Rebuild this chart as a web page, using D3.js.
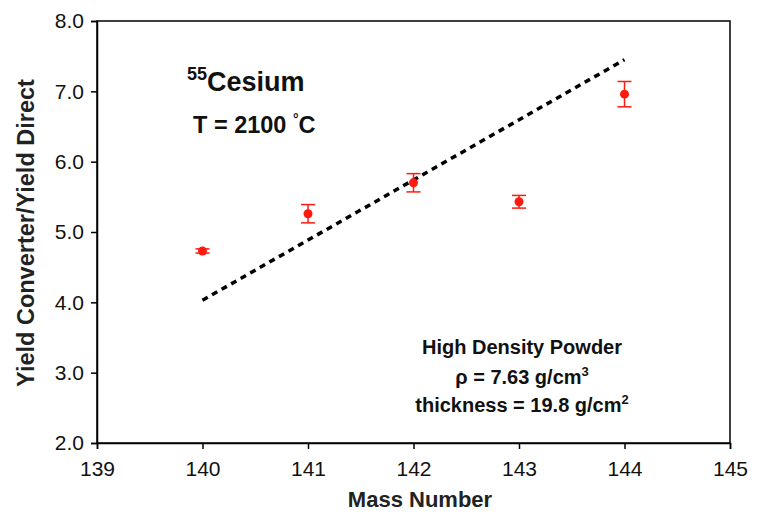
<!DOCTYPE html>
<html>
<head>
<meta charset="utf-8">
<script src="https://cdn.jsdelivr.net/npm/d3@7"></script>
<style>
  body { margin: 0; background: #fff; }
  svg { font-family: 'Liberation Sans', Arial, sans-serif; }
</style>
</head>
<body>
<svg id="svg" width="761" height="514"></svg>
<script>
const width = 761;
const height = 514;

const paddings = { left: 97, top: 21, right: 31, bottom: 71 };

// data
const massNumbers = [140, 141, 142, 143, 144];
const yieldRatio = [4.73, 5.26, 5.70, 5.43, 6.96];
const errLow = [0.03, 0.13, 0.13, 0.09, 0.18];
const errHigh = [0.03, 0.13, 0.13, 0.09, 0.18];
const trendX = [140, 144];
const trendY = [4.03, 7.45];
const xTicks = [139, 140, 141, 142, 143, 144, 145];
const yTicks = [2, 3, 4, 5, 6, 7, 8];

const svg = d3.select('#svg');

const xScale = d3.scaleLinear()
  .domain([139, 145])
  .range([paddings.left, width - paddings.right]);

const yScale = d3.scaleLinear()
  .domain([2, 8])
  .range([height - paddings.bottom, paddings.top]);

// frame
svg.append('rect')
  .attr('x', paddings.left)
  .attr('y', paddings.top)
  .attr('width', width - paddings.left - paddings.right)
  .attr('height', height - paddings.top - paddings.bottom)
  .attr('fill', 'none')
  .attr('stroke', '#000')
  .attr('stroke-width', 1.5);

const xAxis = d3.axisBottom(xScale)
  .tickValues(xTicks)
  .tickFormat(d3.format('d'))
  .tickSize(6)
  .tickPadding(12);

const yAxis = d3.axisLeft(yScale)
  .tickValues(yTicks)
  .tickFormat(d3.format('.1f'))
  .tickSize(6)
  .tickPadding(7);

const gx = svg.append('g')
  .attr('transform', 'translate(0,' + (height - paddings.bottom) + ')')
  .call(xAxis);

const gy = svg.append('g')
  .attr('transform', 'translate(' + paddings.left + ',0)')
  .call(yAxis);

[gx, gy].forEach(g => {
  g.select('.domain').attr('stroke-width', 1.5);
  g.selectAll('.tick line').attr('stroke-width', 1.5);
  g.selectAll('.tick text')
    .attr('font-size', 21)
    .attr('fill', '#111')
    .attr('font-family', "'Liberation Sans', Arial, sans-serif");
});

// axis titles
svg.append('text')
  .attr('x', 420)
  .attr('y', 507)
  .attr('text-anchor', 'middle')
  .attr('font-size', 22)
  .attr('font-weight', 'bold')
  .attr('fill', '#222')
  .text('Mass Number');

svg.append('text')
  .attr('transform', 'translate(34,233) rotate(-90)')
  .attr('text-anchor', 'middle')
  .attr('font-size', 23.5)
  .attr('font-weight', 'bold')
  .attr('fill', '#222')
  .text('Yield Converter/Yield Direct');

// dotted trend line
const line = d3.line()
  .x(d => xScale(d[0]))
  .y(d => yScale(d[1]));

svg.append('path')
  .attr('d', line(d3.zip(trendX, trendY)))
  .attr('fill', 'none')
  .attr('stroke', '#000')
  .attr('stroke-width', 3.5)
  .attr('stroke-dasharray', '6,5');

// error bars and points
const pts = massNumbers.map((m, i) => ({ x: m, y: yieldRatio[i], lo: errLow[i], hi: errHigh[i] }));
const red = '#ff1a0f';

const eb = svg.append('g').selectAll('g')
  .data(pts)
  .enter()
  .append('g');

eb.append('line')
  .attr('x1', d => xScale(d.x))
  .attr('x2', d => xScale(d.x))
  .attr('y1', d => yScale(d.y - d.lo))
  .attr('y2', d => yScale(d.y + d.hi))
  .attr('stroke', red)
  .attr('stroke-width', 1.5);

[d => d.y - d.lo, d => d.y + d.hi].forEach(f => {
  eb.append('line')
    .attr('x1', d => xScale(d.x) - 7)
    .attr('x2', d => xScale(d.x) + 7)
    .attr('y1', d => yScale(f(d)))
    .attr('y2', d => yScale(f(d)))
    .attr('stroke', red)
    .attr('stroke-width', 1.5);
});

eb.append('circle')
  .attr('cx', d => xScale(d.x))
  .attr('cy', d => yScale(d.y))
  .attr('r', 4.5)
  .attr('fill', red);

// annotations
const t1 = svg.append('text')
  .attr('x', 187)
  .attr('y', 91)
  .attr('font-weight', 'bold')
  .attr('fill', '#111');
t1.append('tspan').attr('font-size', 18).attr('dy', -11).text('55');
t1.append('tspan').attr('font-size', 27).attr('dy', 11).text('Cesium');

const t2 = svg.append('text')
  .attr('x', 193)
  .attr('y', 133)
  .attr('font-weight', 'bold')
  .attr('font-size', 23.5)
  .attr('fill', '#111');
t2.append('tspan').text('T = 2100 ');
t2.append('tspan').attr('font-size', 14).attr('dy', -9).text('\u00B0');
t2.append('tspan').attr('dy', 9).text('C');

const noteX = 522;
svg.append('text')
  .attr('x', noteX)
  .attr('y', 354)
  .attr('text-anchor', 'middle')
  .attr('font-weight', 'bold')
  .attr('font-size', 20)
  .attr('fill', '#111')
  .text('High Density Powder');

const t3 = svg.append('text')
  .attr('x', noteX)
  .attr('y', 384)
  .attr('text-anchor', 'middle')
  .attr('font-weight', 'bold')
  .attr('font-size', 20)
  .attr('fill', '#111');
t3.append('tspan').text('\u03C1 = 7.63 g/cm');
t3.append('tspan').attr('font-size', 13).attr('dy', -8).text('3');

const t4 = svg.append('text')
  .attr('x', noteX)
  .attr('y', 412)
  .attr('text-anchor', 'middle')
  .attr('font-weight', 'bold')
  .attr('font-size', 20)
  .attr('fill', '#111');
t4.append('tspan').text('thickness = 19.8 g/cm');
t4.append('tspan').attr('font-size', 13).attr('dy', -8).text('2');
</script>
</body>
</html>
